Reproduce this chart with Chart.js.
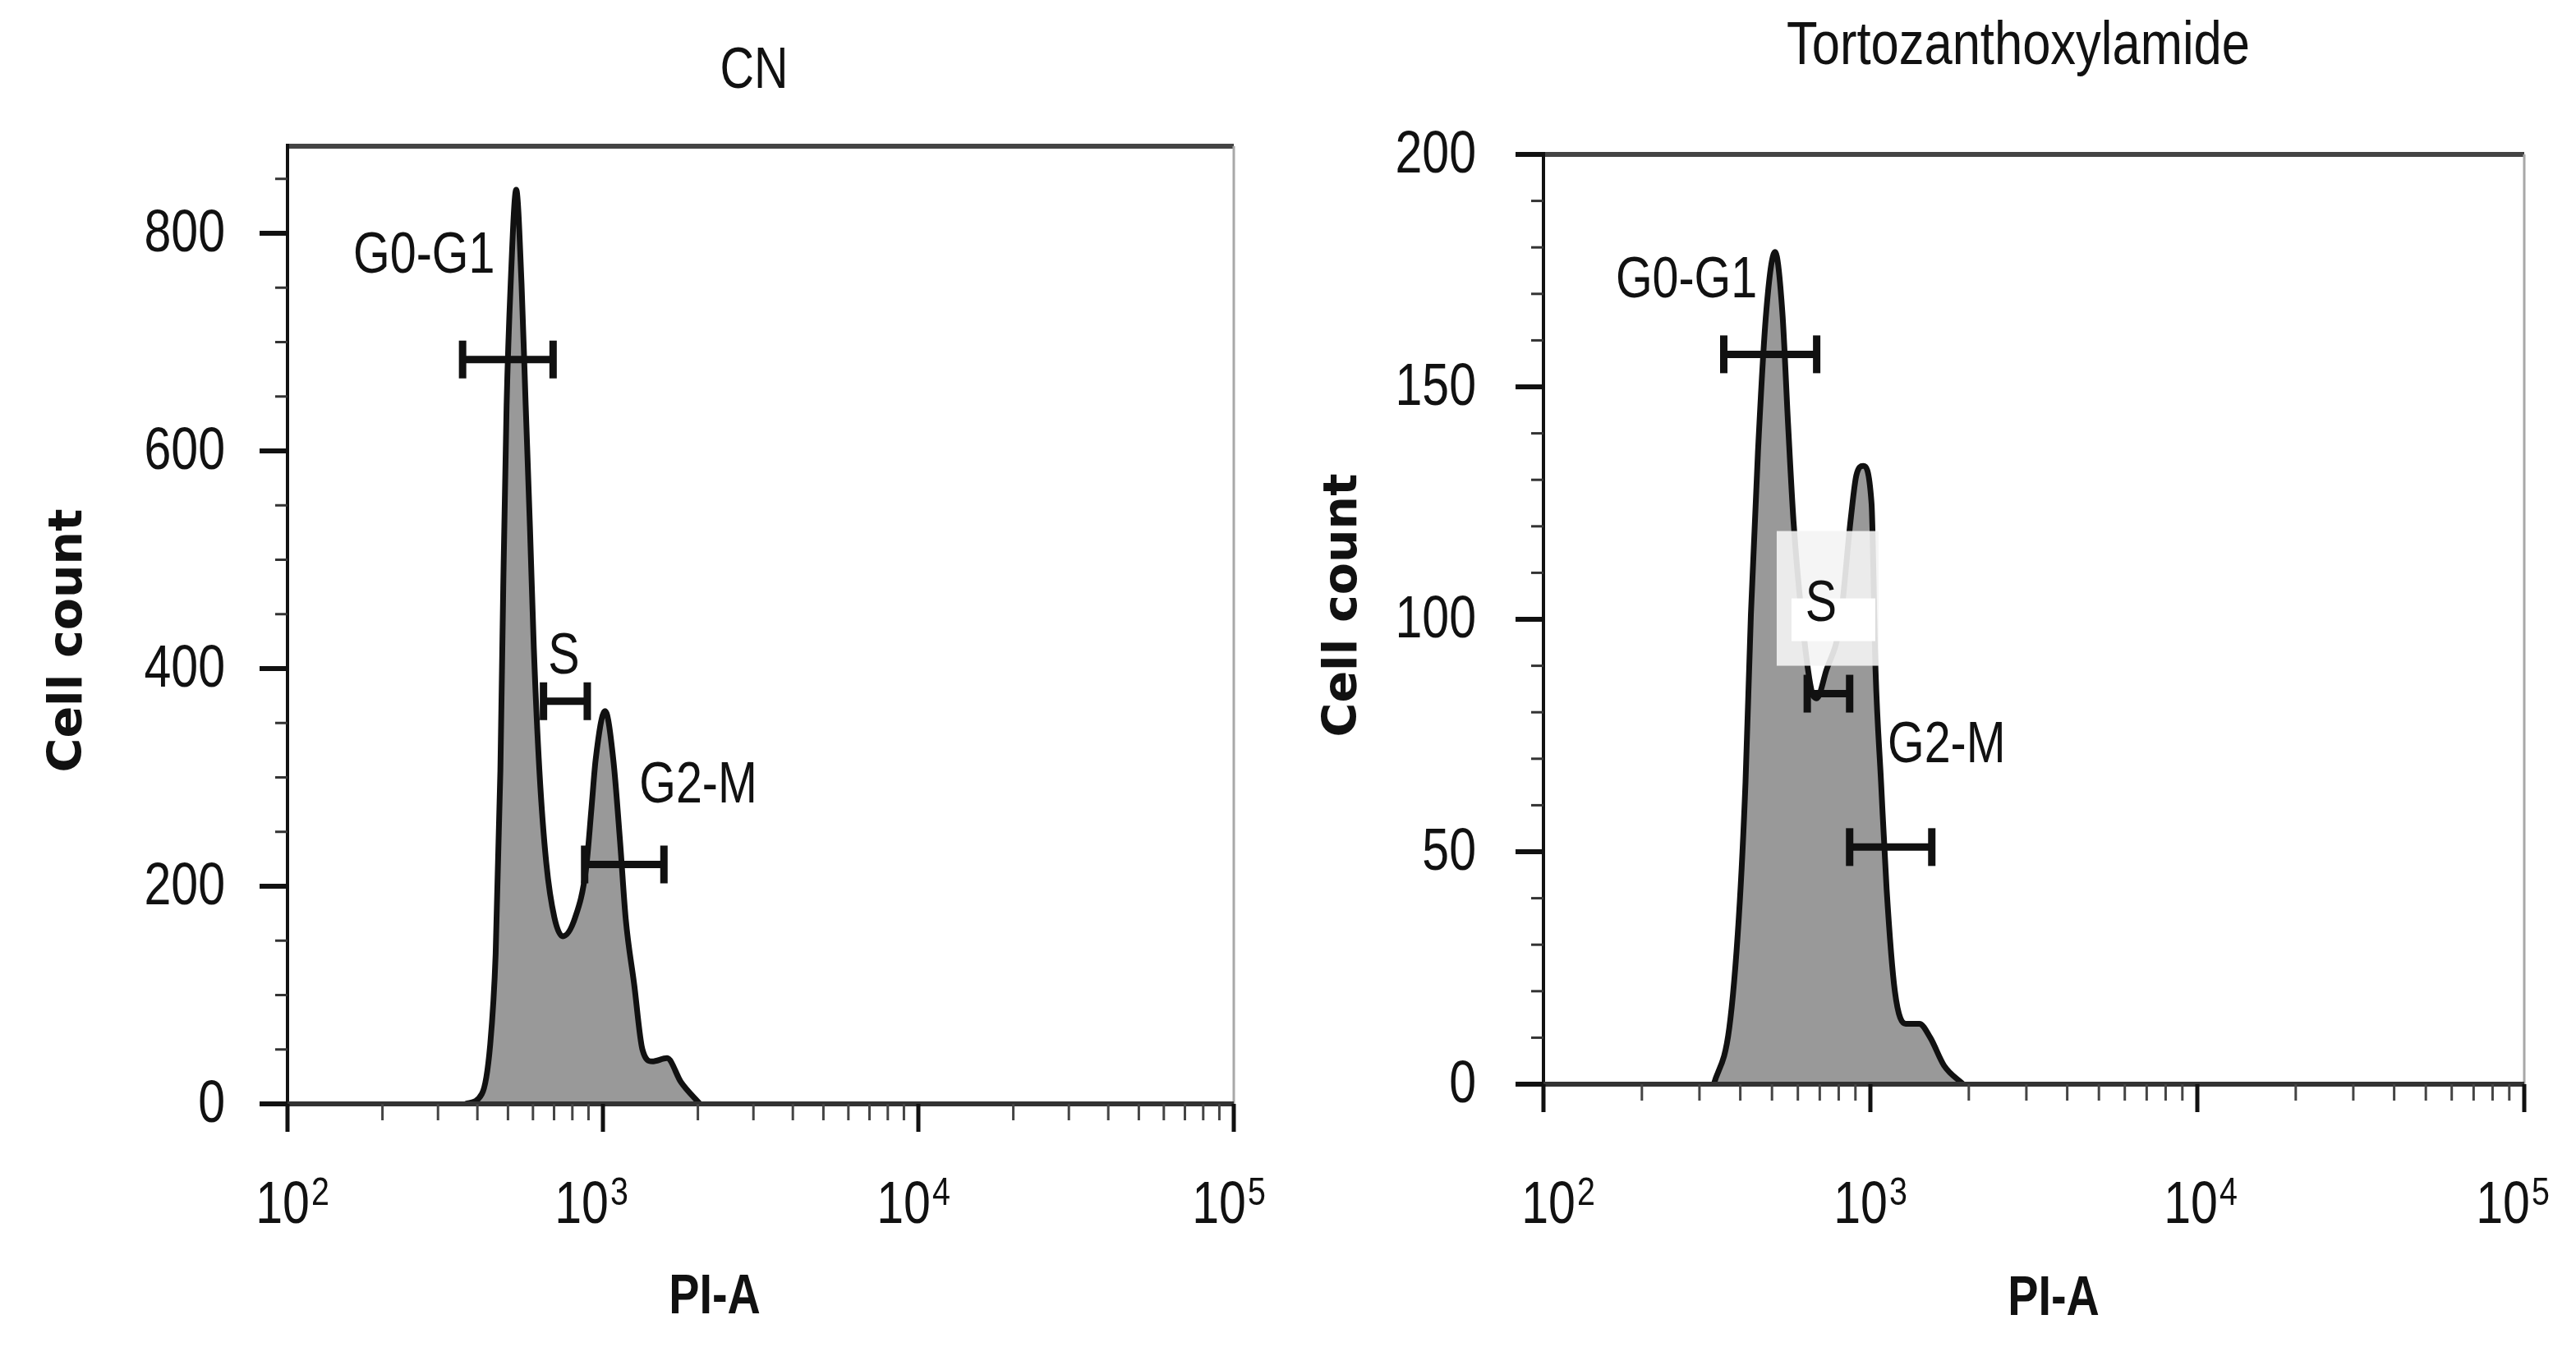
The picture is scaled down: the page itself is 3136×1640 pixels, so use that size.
<!DOCTYPE html>
<html>
<head>
<meta charset="utf-8">
<script src="https://cdn.jsdelivr.net/npm/chart.js"></script>
<style>
    body { margin: 0; background: #fff; }
    .panel { position: absolute; top: 0; width: 1568px; height: 1640px; }
</style>
</head>
<body>
<div class="panel" style="left:0"><canvas id="cn"></canvas></div>
<div class="panel" style="left:1568px"><canvas id="torto"></canvas></div>
<script>
// PI-A intensity (x) and cell count (y)
const cnPI = [367, 413, 439, 457, 473, 483, 495, 510, 531, 552, 569, 587, 604, 629, 661, 702, 746, 816, 884, 920, 948, 1016, 1079, 1134, 1181, 1256, 1334, 1433, 1597, 1768, 2029];
const cnCount = [0, 9, 54, 138, 306, 474, 642, 754, 840, 754, 642, 530, 418, 306, 222, 171, 154, 171, 216, 272, 316, 361, 316, 240, 170, 110, 50, 39, 42, 20, 0];

const tzPI = [332, 370, 396, 415, 431, 453, 480, 511, 538, 560, 582, 616, 659, 685, 733, 807, 872, 906, 951, 1008, 1037, 1078, 1121, 1188, 1282, 1412, 1525, 1680, 1922];
const tzCount = [0, 12, 36, 65, 101, 136, 166, 179, 166, 142, 121, 101, 85, 83, 89, 99, 122, 131, 133, 125, 89, 65, 42, 20, 13, 13, 10, 4, 0];

// cell cycle gates
const gateNames = ["G0-G1", "S", "G2-M"];
const cnGateLow = [359, 648, 875];
const cnGateHigh = [695, 892, 1561];
const cnGateLevel = [684, 370, 220];
const tzGateLow = [356, 641, 864];
const tzGateHigh = [685, 864, 1541];
const tzGateLevel = [157, 84, 51];

// axes
const xDecades = [100, 1000, 10000, 100000];
const xExponents = ["2", "3", "4", "5"];
const cnYMajor = [0, 200, 400, 600, 800];
const cnYMax = 880;
const cnYMinorStep = 50;
const tzYMajor = [0, 50, 100, 150, 200];
const tzYMax = 200;
const tzYMinorStep = 10;

const sans = "'Liberation Sans', Arial, sans-serif";

function line(ctx, x1, y1, x2, y2, color, width) {
    ctx.beginPath();
    ctx.strokeStyle = color;
    ctx.lineWidth = width;
    ctx.moveTo(x1, y1);
    ctx.lineTo(x2, y2);
    ctx.stroke();
}

// condensed text: Liberation Sans squeezed horizontally
function narrowText(ctx, text, x, y, size, opts) {
    opts = opts || {};
    ctx.save();
    ctx.translate(x, y);
    ctx.scale(opts.sx || 0.82, 1);
    ctx.font = (opts.bold ? "bold " : "") + size + "px " + sans;
    ctx.textAlign = opts.align || "center";
    ctx.textBaseline = opts.baseline || "middle";
    ctx.fillStyle = "#111";
    ctx.fillText(text, 0, 0);
    ctx.restore();
}

function narrowWidth(ctx, text, size) {
    ctx.save();
    ctx.font = size + "px " + sans;
    const w = ctx.measureText(text).width * 0.82;
    ctx.restore();
    return w;
}

const cytoPlugin = {
    id: "cyto",
    afterDatasetsDraw(chart, args, o) {
        const ctx = chart.ctx;
        const a = chart.chartArea;
        const x = chart.scales.x;
        const y = chart.scales.y;
        ctx.save();
        ctx.lineCap = "butt";

        // frame
        line(ctx, a.left, a.top, a.right, a.top, "#444", 6);
        line(ctx, a.right, a.top, a.right, a.bottom, "#a8a8a8", 3);
        line(ctx, a.left, a.top - 3, a.left, a.bottom, "#111", 4);
        line(ctx, a.left, a.bottom, a.right, a.bottom, "#333", 6);

        // y ticks and labels
        for (let v = o.yStep; v < o.yMax; v += o.yStep) {
            if (o.yMajor.includes(v)) continue;
            const py = y.getPixelForValue(v);
            line(ctx, a.left - 15, py, a.left, py, "#333", 3);
        }
        o.yMajor.forEach(v => {
            const py = y.getPixelForValue(v);
            line(ctx, a.left - 34, py, a.left, py, "#111", 6);
            narrowText(ctx, String(v), a.left - o.yLabelGap, py + 2, 72, {align: "right"});
        });

        // x ticks
        xDecades.forEach((d, i) => {
            if (i < xDecades.length - 1) {
                for (let m = 2; m <= 9; m++) {
                    const px = x.getPixelForValue(d * m);
                    line(ctx, px, a.bottom, px, a.bottom + 20, "#444", 3);
                }
            }
            const px = x.getPixelForValue(d);
            line(ctx, px, a.bottom, px, a.bottom + 34, "#111", 5);
        });

        // x tick labels 10^n
        xDecades.forEach((d, i) => {
            const px = x.getPixelForValue(d) + o.xLabelShift[i];
            const wb = narrowWidth(ctx, "10", 72);
            const we = narrowWidth(ctx, xExponents[i], 48);
            const left = px - (wb + we + 2) / 2;
            narrowText(ctx, "10", left, o.xLabelBase, 72, {align: "left", baseline: "alphabetic"});
            narrowText(ctx, xExponents[i], left + wb + 2, o.xLabelBase - 22, 48, {align: "left", baseline: "alphabetic"});
        });

        // gates
        o.gateLow.forEach((lo, i) => {
            const x1 = x.getPixelForValue(lo);
            const x2 = x.getPixelForValue(o.gateHigh[i]);
            const py = y.getPixelForValue(o.gateLevel[i]);
            line(ctx, x1, py, x2, py, "#111", 9);
            line(ctx, x1, py - 23, x1, py + 23, "#111", 9);
            line(ctx, x2, py - 23, x2, py + 23, "#111", 9);
            const cx = (x1 + x2) / 2 + o.labelShift[i][0];
            const cy = py + o.labelShift[i][1];
            if (o.labelBox && o.labelBox[i]) {
                const b = o.labelBox[i];
                ctx.fillStyle = "rgba(244,244,244,0.9)";
                ctx.fillRect(cx + b[0], cy + b[1], b[2], b[3]);
                ctx.fillStyle = "#fff";
                ctx.fillRect(cx + b[0] + 18, cy - 8, b[2] - 22, 52);
            }
            narrowText(ctx, gateNames[i], cx, cy, 70);
        });

        // titles
        narrowText(ctx, o.title, o.titlePos[0], o.titlePos[1], o.titleSize, {baseline: "alphabetic"});
        narrowText(ctx, "PI-A", o.xTitlePos[0], o.xTitlePos[1], 68, {bold: true});

        ctx.translate(o.yTitlePos[0], o.yTitlePos[1]);
        ctx.rotate(-Math.PI / 2);
        ctx.fillStyle = "#111";
        ctx.textAlign = "center";
        ctx.textBaseline = "middle";
        ctx.font = "bold 57px 'DejaVu Sans', sans-serif";
        ctx.fillText("Cell count", 0, 0);
        ctx.restore();
    }
};

function makeChart(id, xs, counts, yMajor, yMax, yStep, area, extra) {
    const points = xs.map((v, i) => ({x: v, y: counts[i]}));
    const config = {
        type: "line",
        data: {
            datasets: [{
                data: points,
                fill: "origin",
                backgroundColor: "#999999",
                borderColor: "#111111",
                borderWidth: 7,
                pointRadius: 0,
                cubicInterpolationMode: "monotone"
            }]
        },
        options: {
            responsive: true,
            maintainAspectRatio: false,
            animation: false,
            events: [],
            layout: {
                padding: {left: area.left, top: area.top, right: 1568 - area.right, bottom: 1640 - area.bottom}
            },
            scales: {
                x: {
                    type: "logarithmic",
                    min: 100,
                    max: 100000,
                    grid: {display: false},
                    border: {display: false},
                    ticks: {display: false},
                    afterFit: s => { s.height = 0; }
                },
                y: {
                    min: 0,
                    max: yMax,
                    grid: {display: false},
                    border: {display: false},
                    ticks: {display: false},
                    afterFit: s => { s.width = 0; }
                }
            },
            plugins: {
                legend: {display: false},
                tooltip: {enabled: false},
                cyto: Object.assign({yMajor: yMajor, yMax: yMax, yStep: yStep}, extra)
            }
        },
        plugins: [cytoPlugin]
    };
    return new Chart(document.getElementById(id), config);
}

const cnChart = makeChart("cn", cnPI, cnCount, cnYMajor, cnYMax, cnYMinorStep,
    {left: 350, top: 178, right: 1502, bottom: 1344},
    {
        title: "CN", titlePos: [918, 107], titleSize: 70,
        xTitlePos: [870, 1580], yTitlePos: [84, 780], xLabelBase: 1489, yLabelGap: 76,
        xLabelShift: [6, -14, -6, -6],
        gateLow: cnGateLow, gateHigh: cnGateHigh, gateLevel: cnGateLevel,
        labelShift: [[-102, -125], [-2, -53], [90, -95]]
    });

const tzChart = makeChart("torto", tzPI, tzCount, tzYMajor, tzYMax, tzYMinorStep,
    {left: 311, top: 188, right: 1505, bottom: 1320},
    {
        title: "Tortozanthoxylamide", titlePos: [889, 78], titleSize: 75,
        xTitlePos: [932, 1582], yTitlePos: [68, 737], xLabelBase: 1489, yLabelGap: 82,
        xLabelShift: [18, 0, 4, -14],
        gateLow: tzGateLow, gateHigh: tzGateHigh, gateLevel: tzGateLevel,
        labelShift: [[-102, -89], [-9, -108], [68, -123]],
        labelBox: [null, [-54, -90, 124, 164], null]
    });
</script>
</body>
</html>
